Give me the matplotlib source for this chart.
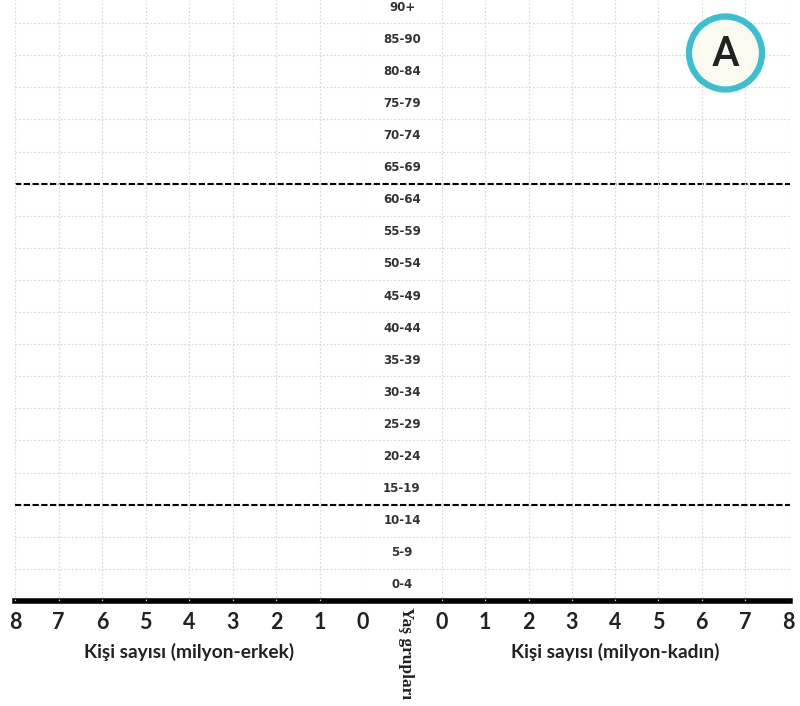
import matplotlib
matplotlib.use("Agg")
import matplotlib.pyplot as plt
from matplotlib.patches import Circle

# Veri: yaş grupları ve eksen değerleri (şablon - çubuk yok)
yas_gruplari = ["0-4", "5-9", "10-14", "15-19", "20-24", "25-29", "30-34",
                "35-39", "40-44", "45-49", "50-54", "55-59", "60-64",
                "65-69", "70-74", "75-79", "80-84", "85-90", "90+"]
erkek = []   # milyon
kadin = []   # milyon
x_degerleri = [0, 1, 2, 3, 4, 5, 6, 7, 8]
ayrac_sinirlari = [2.5, 12.5]   # 10-14 / 15-19 ve 60-64 / 65-69 arası

W, H = 800, 706
fig = plt.figure(figsize=(W / 100, H / 100), dpi=100)
fig.patch.set_facecolor("white")

def kutu(x0, x1, y_ust, y_alt):
    return [x0 / W, (H - y_alt) / H, (x1 - x0) / W, (y_alt - y_ust) / H]

ust_sinir = 18.22
grid_renk = "#d9d9d9"

# Arka plan ekseni: yatay ızgara, kesikli çizgiler, yaş etiketleri
ax_bg = fig.add_axes(kutu(15, 790, 0, 601))
ax_bg.set_xlim(0, 1)
ax_bg.set_ylim(-0.5, ust_sinir)
for i in range(len(yas_gruplari)):
    ax_bg.axhline(i + 0.5, color=grid_renk, lw=0.9, ls=(0, (1.5, 1.5)), zorder=0)
for s in ayrac_sinirlari:
    ax_bg.axhline(s, color="black", lw=1.5, ls=(0, (3, 1.2)), zorder=3)
orta_x = (402 - 15) / 775
for i, etiket in enumerate(yas_gruplari):
    ax_bg.text(orta_x, i, etiket, ha="center", va="center", fontsize=8.5,
               fontweight="bold", color="#333333", family="DejaVu Sans")
for k in ["top", "left", "right"]:
    ax_bg.spines[k].set_visible(False)
ax_bg.spines["bottom"].set_linewidth(4)
ax_bg.spines["bottom"].set_color("black")
ax_bg.set_xticks([])
ax_bg.set_yticks([])

# Sol (erkek) ve sağ (kadın) eksenler
def panel(konum, ters, baslik, veri):
    ax = fig.add_axes(konum)
    ax.patch.set_alpha(0)
    ax.set_ylim(-0.5, ust_sinir)
    if veri:
        ax.barh(range(len(veri)), veri, color="#888888")
    ax.set_xlim((8, 0) if ters else (0, 8))
    ax.set_xticks(x_degerleri)
    ax.set_xticklabels([str(v) for v in x_degerleri], family="Lato",
                       fontweight="bold", fontsize=15.5, color="#222222")
    ax.tick_params(axis="x", length=0, pad=8)
    ax.set_yticks([])
    ax.grid(axis="x", color=grid_renk, lw=0.9, ls=(0, (1.5, 1.5)))
    ax.set_axisbelow(True)
    for k in ax.spines.values():
        k.set_visible(False)
    ax.set_xlabel(baslik, family="Lato", fontweight="bold", fontsize=13.8,
                  color="#222222", labelpad=7)
    return ax

ax_sol = panel(kutu(15, 363, 0, 601), True, "Kişi sayısı (milyon-erkek)", erkek)
ax_sag = panel(kutu(442, 788, 0, 601), False, "Kişi sayısı (milyon-kadın)", kadin)

fig.text(406 / W, 1 - 653 / H, "Yaş grupları", rotation=270, ha="center",
         va="center", family="Liberation Serif", fontweight="bold",
         fontsize=12.5, color="#222222")

# "A" rozeti
rozet = Circle((7.255, (H - 53) / 100), 0.365, transform=fig.dpi_scale_trans,
               facecolor="#fafaf0", edgecolor="#3bbfd0", lw=4.5, zorder=5)
fig.add_artist(rozet)
fig.text(725.5 / W, 1 - 55 / H, "A", ha="center", va="center",
         family="Roboto", fontsize=30, fontweight="medium",
         color="#222222", zorder=6)

fig.savefig("out.png", dpi=100, facecolor="white")
